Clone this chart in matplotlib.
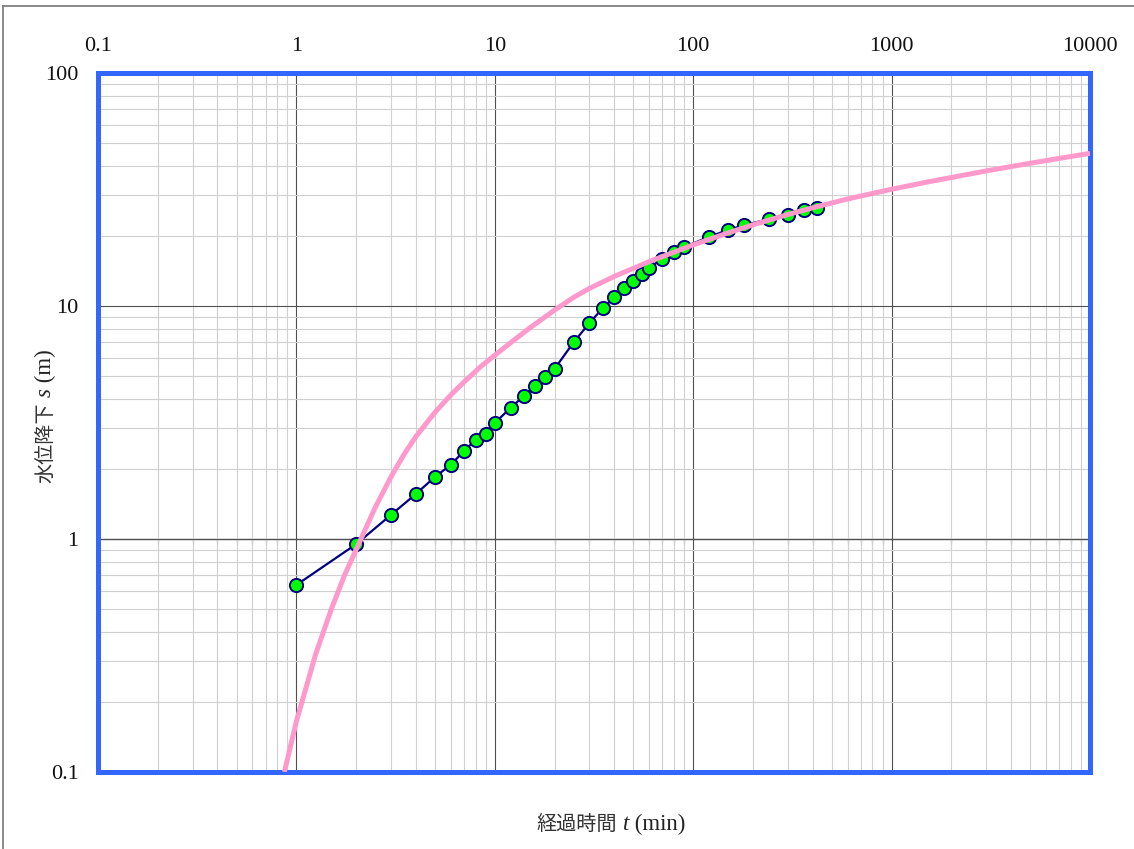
import matplotlib
matplotlib.use("Agg")
import matplotlib.pyplot as plt
from matplotlib.lines import Line2D
from matplotlib.ticker import LogLocator, NullFormatter

# ---- data ----
t_obs = [1, 2, 3, 4, 5, 6, 7, 8, 9, 10, 12, 14, 16, 18, 20, 25, 30, 35, 40, 45,
         50, 55, 60, 70, 80, 90, 120, 150, 180, 240, 300, 360, 420]
s_obs = [0.635, 0.95, 1.27, 1.56, 1.85, 2.08, 2.39, 2.66, 2.82, 3.15, 3.65, 4.11,
         4.53, 4.96, 5.37, 7.0, 8.45, 9.8, 10.9, 11.9, 12.8, 13.7, 14.6, 15.9,
         17.1, 17.9, 19.8, 21.2, 22.2, 23.6, 24.7, 25.8, 26.4]

t_fit = [0.87, 1.0, 1.25, 1.5, 1.75, 2.0, 2.5, 3.0, 3.5, 4.0, 5.0, 6.0, 7.0, 8.5,
         10, 12, 15, 20, 25, 30, 40, 60, 100, 150, 200, 300, 400, 600, 1000,
         1500, 2000, 3000, 5000, 7000, 10000]
s_fit = [0.1, 0.165, 0.32, 0.50, 0.70, 0.90, 1.37, 1.85, 2.32, 2.75, 3.5, 4.15,
         4.72, 5.5, 6.15, 6.95, 8.05, 9.6, 10.9, 11.9, 13.4, 15.5, 18.3, 20.6,
         22.3, 24.7, 26.4, 28.8, 31.7, 34.0, 35.6, 38.0, 41.0, 43.0, 45.2]

x_ticks = [0.1, 1, 10, 100, 1000, 10000]
x_ticklabels = ["0.1", "1", "10", "100", "1000", "10000"]
y_ticks = [0.1, 1, 10, 100]
y_ticklabels = ["0.1", "1", "10", "100"]

SERIF = ["Liberation Serif", "DejaVu Serif"]
CJK = ["Noto Sans CJK JP", "DejaVu Sans"]

W, H = 1134, 849
fig = plt.figure(figsize=(W / 100, H / 100), dpi=100)
fig.patch.set_facecolor("white")

ax = fig.add_axes([98 / W, 1 - 772 / H, (1090 - 98) / W, (772 - 73) / H])
ax.set_xscale("log")
ax.set_yscale("log")
ax.set_xlim(0.1, 10000)
ax.set_ylim(0.1, 100)

# grid
ax.xaxis.set_minor_locator(LogLocator(base=10, subs=range(2, 10), numticks=100))
ax.yaxis.set_minor_locator(LogLocator(base=10, subs=range(2, 10), numticks=100))
ax.xaxis.set_minor_formatter(NullFormatter())
ax.yaxis.set_minor_formatter(NullFormatter())
ax.grid(which="minor", color="#d0d0d0", lw=0.8, zorder=0)
ax.grid(which="major", color="#505050", lw=0.8, zorder=0)
ax.set_axisbelow(True)

# ticks
ax.xaxis.tick_top()
ax.set_xticks(x_ticks)
ax.set_xticklabels(x_ticklabels, fontfamily=SERIF, fontsize=16)
ax.set_yticks(y_ticks)
ax.set_yticklabels(y_ticklabels, fontfamily=SERIF, fontsize=16)
ax.tick_params(axis="x", which="both", length=0, pad=12, colors="#111111")
ax.tick_params(axis="y", which="both", length=0, pad=14, colors="#111111")

# axis line at s = 1 with minor ticks
sec = ax.secondary_xaxis(1 / 3)
for side in ("bottom", "top"):
    sec.spines[side].set_color("#111111")
    sec.spines[side].set_linewidth(0.9)
sec.xaxis.set_minor_locator(LogLocator(base=10, subs=range(2, 10), numticks=100))
sec.xaxis.set_minor_formatter(NullFormatter())
sec.set_xticks([])
sec.tick_params(which="minor", length=3.5, width=0.8, color="#111111", direction="out")

for sp in ax.spines.values():
    sp.set_color("#3366ff")
    sp.set_linewidth(3.6)

# data
ax.plot(t_obs, s_obs, color="#000080", lw=1.6, marker="o", markersize=9.5,
        markerfacecolor="#00ff00", markeredgecolor="#000080", markeredgewidth=1.4,
        zorder=3, clip_on=False)
ax.plot(t_fit, s_fit, color="#ff99cc", lw=3.6, zorder=4, solid_capstyle="butt",
        solid_joinstyle="round")

# outer frame (left and top)
fig.add_artist(Line2D([3 / W, 3 / W], [0, 1 - 6 / H], transform=fig.transFigure,
                      color="#777777", lw=1.2))
fig.add_artist(Line2D([3 / W, 1], [1 - 6 / H, 1 - 6 / H], transform=fig.transFigure,
                      color="#777777", lw=1.2))

# mixed-font labels
fig.canvas.draw()
renderer = fig.canvas.get_renderer()


def mixed_label(parts, cx, cy, rotation=0):
    widths = []
    for s, kw in parts:
        t = fig.text(0, 0, s, **kw)
        widths.append(t.get_window_extent(renderer).width)
        t.remove()
    total = sum(widths)
    pos = -total / 2
    for (s, kw), w in zip(parts, widths):
        if rotation == 0:
            x, y = cx + pos, cy
        else:
            x, y = cx, cy + pos
        fig.text(x / W, y / H, s, rotation=rotation,
                 rotation_mode="anchor", ha="left", va="baseline", **kw)
        pos += w


cjk_kw = dict(fontfamily=CJK, fontsize=14.5, color="#333333")
ser_kw = dict(fontfamily=SERIF, fontsize=16.5, color="#222222")
ita_kw = dict(fontfamily=SERIF, fontsize=16.5, style="italic", color="#222222")

# x label: centre x=611, baseline y=830 (from top)
mixed_label([("経過時間", cjk_kw), (" ", ser_kw), ("t", ita_kw), (" (min)", ser_kw)],
            611, H - 830, rotation=0)
# y label: centre y=416 (from top), baseline x=51
mixed_label([("水位降下", cjk_kw), (" ", ser_kw), ("s", ita_kw), (" (m)", ser_kw)],
            51, H - 416, rotation=90)

fig.savefig("out.png", dpi=100)
